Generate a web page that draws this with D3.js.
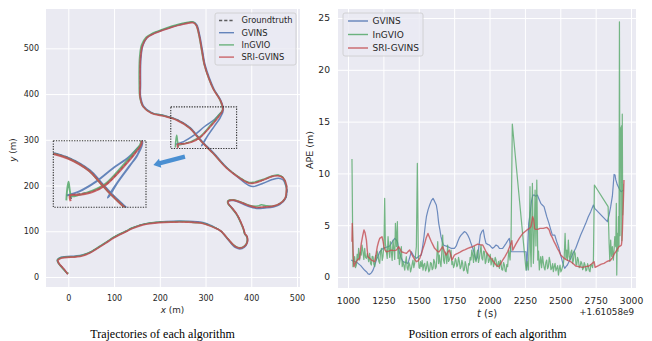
<!DOCTYPE html>
<html>
<head>
<meta charset="utf-8">
<script src="https://cdn.jsdelivr.net/npm/d3@7"></script>
<style>
  body { margin: 0; background: #fff; }
  svg { display: block; }
  text { font-family: "DejaVu Sans", sans-serif; fill: #262626; }
  .caption { font-family: "Liberation Serif", "Times New Roman", serif; font-size: 12px; fill: #000; }
</style>
</head>
<body>
<svg id="chart" width="652" height="341"></svg>
<script>
// trajectories, [x, y] in metres
const groundtruth = [[241,285],[240,290],[252,292],[270,296],[289,306],[311,330],[329,352],[338,366],[332,387],[318,410],[307,436],[298,464],[292,497],[286,530],[280,551],[273,557],[244,552],[208,541],[185,532],[171,523],[162,506],[158,481],[157,460],[157,420],[157,395],[164,373],[182,359],[208,353],[237,344],[266,326],[281,309],[295,293],[317,271],[346,239],[375,217],[395,206],[405,206],[426,212],[446,220],[460,222],[470,217],[477,201],[478,190],[475,172],[462,160],[448,155],[430,153],[412,152],[395,156],[383,161],[361,168],[350,166],[350,160],[357,152],[368,138],[375,125],[384,103],[386,95],[391,88],[391,75],[385,67],[375,63],[366,66],[359,72],[345,88],[334,100],[323,107],[294,118],[257,121],[230,121],[199,120],[163,115],[140,107],[126,100],[100,87],[82,75],[60,61],[46,53],[30,47],[17,45],[-16,42],[-23,37],[-20,29],[-10,18],[-1,6]];
const gvinsTraj = [[234,290],[252,296],[275,310],[298,329],[320,345],[336,361],[332,348],[320,331],[304,308],[291,287],[293,289],[305,309],[321,332],[333,350],[339,366],[333,387],[319,410],[308,436],[299,464],[293,497],[287,530],[281,551],[274,557],[245,552],[209,541],[186,532],[172,523],[163,506],[159,481],[158,460],[158,420],[158,395],[165,373],[183,359],[209,353],[238,344],[267,326],[282,309],[296,293],[318,271],[347,239],[376,214],[395,200],[405,198],[426,205],[446,213],[460,216],[470,212],[476,198],[478,190],[475,172],[462,158],[448,153],[430,151],[412,150],[395,154],[383,159],[361,167],[349,165],[350,160],[357,152],[368,137],[375,124],[384,102],[386,94],[391,87],[391,74],[385,65],[375,61],[366,64],[359,70],[345,87],[334,100],[323,107],[294,119],[257,122],[230,122],[199,120],[163,115],[140,107],[126,100],[100,87],[82,75],[60,61],[46,53],[30,48],[17,46],[-16,43],[-24,37],[-21,29],[-11,18],[-2,7]];
const ingvioTraj = [[234,283],[235,297],[237,310],[239,296],[241,289],[252,291],[270,297],[288,307],[310,331],[328,353],[337,366],[331,388],[317,411],[306,437],[297,465],[291,498],[285,531],[279,552],[272,558],[243,553],[207,542],[184,533],[170,524],[160,507],[156,482],[155,460],[155,420],[156,395],[163,373],[181,359],[207,353],[236,344],[265,326],[280,309],[294,293],[316,271],[345,240],[374,218],[394,207],[404,207],[425,213],[445,221],[459,223],[469,218],[476,201],[477,190],[474,172],[461,160],[447,155],[432,156],[422,158],[414,155],[395,157],[383,162],[361,169],[349,167],[349,160],[356,152],[367,138],[374,125],[383,103],[385,95],[390,88],[390,75],[384,67],[375,64],[366,67],[358,73],[344,89],[333,101],[322,107],[293,118],[272,119],[265,121],[230,121],[198,120],[162,115],[139,107],[125,100],[99,87],[81,75],[59,61],[45,53],[29,47],[16,45],[-17,42],[-24,37],[-21,29],[-11,17],[-2,8],[0,10]];
const sriTraj = [[240,282],[239,290],[252,291],[270,295],[288,305],[311,329],[329,351],[338,366],[332,387],[318,409],[307,435],[298,463],[292,496],[286,529],[280,550],[273,556],[244,551],[208,540],[185,531],[171,522],[162,505],[158,480],[157,460],[157,420],[157,394],[164,372],[182,358],[208,352],[237,343],[266,325],[281,308],[295,292],[317,270],[346,238],[375,216],[395,205],[405,205],[426,212],[446,220],[460,221],[470,216],[477,200],[477,190],[474,172],[462,160],[448,155],[430,153],[412,152],[395,156],[383,161],[361,168],[350,166],[350,160],[357,152],[368,138],[375,125],[384,103],[386,95],[391,88],[391,75],[385,67],[375,63],[366,66],[359,72],[345,88],[334,100],[323,106],[294,117],[257,120],[230,120],[199,119],[163,114],[140,106],[126,99],[100,86],[82,74],[60,60],[46,52],[30,46],[17,44],[-16,41],[-23,36],[-20,29],[-10,18],[-1,6]];

// absolute position error, [t - 1.61058e9 (s), APE (m)]
const gvinsApe = [[1023,1.64],[1035,1.55],[1047,1.48],[1060,1.45],[1071,1.32],[1090,1.1],[1106,0.84],[1118,0.65],[1130,0.51],[1142,0.3],[1153,0.26],[1165,0.4],[1177,0.67],[1188,1.1],[1200,1.64],[1212,2.0],[1224,2.44],[1236,2.6],[1247,2.77],[1265,2.85],[1283,2.93],[1295,3.0],[1306,3.25],[1318,3.5],[1330,3.73],[1340,3.6],[1349,3.41],[1357,2.8],[1365,2.28],[1377,1.8],[1389,1.48],[1406,1.4],[1424,1.32],[1436,1.9],[1448,2.44],[1465,2.0],[1483,1.8],[1500,2.0],[1518,2.12],[1528,3.0],[1537,3.89],[1546,5.0],[1554,5.82],[1566,6.5],[1577,6.95],[1590,7.4],[1601,7.59],[1612,7.3],[1624,6.95],[1632,6.3],[1641,5.18],[1650,4.5],[1657,3.89],[1666,3.4],[1674,3.09],[1690,3.0],[1704,2.93],[1728,2.77],[1752,2.77],[1765,3.0],[1775,3.41],[1787,3.8],[1799,4.05],[1810,4.2],[1822,4.38],[1834,4.3],[1846,4.05],[1858,3.7],[1869,3.25],[1881,2.8],[1893,2.28],[1905,1.64],[1916,1.96],[1925,3.0],[1935,4.05],[1946,4.4],[1956,4.54],[1965,3.8],[1975,3.25],[1987,3.15],[1999,3.09],[2011,2.9],[2022,2.77],[2034,2.9],[2046,3.09],[2058,3.0],[2070,2.77],[2081,2.75],[2093,2.77],[2105,3.0],[2117,3.25],[2128,3.5],[2140,3.73],[2147,3.0],[2152,2.44],[2187,2.44],[2258,2.44],[2263,0.67],[2270,3.0],[2277,5.18],[2286,5.98],[2296,7.27],[2306,7.9],[2317,7.91],[2326,7.8],[2338,7.91],[2350,7.5],[2362,7.11],[2373,6.95],[2385,6.79],[2395,6.3],[2405,5.8],[2420,5.18],[2432,4.6],[2444,4.05],[2461,4.05],[2475,3.4],[2491,2.77],[2503,2.1],[2515,1.48],[2523,1.1],[2531,0.84],[2540,1.0],[2550,1.16],[2562,1.5],[2574,1.8],[2590,2.3],[2609,2.77],[2626,3.4],[2644,4.05],[2662,4.6],[2680,5.18],[2697,5.8],[2715,6.31],[2734,6.95],[2743,6.63],[2833,5.34],[2845,6.0],[2856,6.79],[2868,7.8],[2875,9.0],[2880,9.9],[2887,9.85],[2892,9.4],[2903,8.9],[2915,8.56],[2925,8.3],[2932,8.24],[2946,8.4]];
const ingvioApe = [[1028,11.4],[1035,1.0],[1047,1.96],[1053,0.9],[1059,1.16],[1065,2.2],[1071,1.64],[1075,2.77],[1082,1.64],[1088,2.4],[1094,2.12],[1099,3.09],[1106,2.44],[1112,1.7],[1118,2.77],[1124,1.9],[1130,1.8],[1137,2.28],[1146,1.48],[1153,2.28],[1159,1.3],[1165,1.16],[1171,2.0],[1177,1.96],[1183,1.2],[1189,1.0],[1195,2.1],[1200,1.64],[1206,2.5],[1212,2.12],[1218,1.5],[1224,1.32],[1230,2.4],[1236,2.77],[1242,1.6],[1247,1.96],[1254,3.09],[1259,7.6],[1264,3.25],[1271,2.44],[1277,1.8],[1283,3.89],[1290,2.44],[1295,1.9],[1299,3.41],[1306,2.44],[1312,1.6],[1318,3.57],[1325,2.6],[1330,1.7],[1335,5.18],[1342,2.93],[1349,5.34],[1353,1.8],[1358,2.77],[1363,1.2],[1368,1.64],[1377,2.93],[1383,1.0],[1389,1.48],[1395,1.1],[1401,0.67],[1406,1.4],[1412,1.96],[1418,0.9],[1424,0.67],[1430,1.4],[1436,1.16],[1442,0.5],[1448,0.84],[1454,1.3],[1459,1.64],[1465,0.9],[1471,1.32],[1477,2.1],[1483,2.93],[1490,10.97],[1497,1.96],[1502,0.9],[1507,0.84],[1512,1.5],[1518,1.0],[1524,1.6],[1530,0.67],[1536,1.2],[1542,1.32],[1548,0.6],[1554,0.84],[1560,1.5],[1565,1.16],[1571,0.5],[1577,0.67],[1583,1.4],[1589,1.32],[1595,0.7],[1601,0.84],[1606,1.7],[1612,1.48],[1618,0.8],[1624,1.0],[1630,2.5],[1634,3.41],[1640,1.3],[1645,2.12],[1651,1.4],[1657,1.0],[1663,2.5],[1669,4.05],[1675,1.6],[1681,1.32],[1687,2.4],[1693,2.12],[1698,1.3],[1704,3.09],[1710,1.5],[1716,1.64],[1722,2.0],[1728,2.6],[1734,1.2],[1740,1.48],[1746,0.9],[1752,1.16],[1758,1.8],[1763,1.64],[1769,1.0],[1775,1.16],[1781,1.9],[1787,1.48],[1793,0.8],[1799,1.0],[1805,1.6],[1810,1.32],[1816,0.6],[1822,0.67],[1828,1.5],[1834,1.16],[1840,0.6],[1846,0.35],[1852,1.3],[1858,1.16],[1863,1.9],[1869,1.64],[1875,2.6],[1881,2.12],[1887,1.4],[1893,2.93],[1899,1.7],[1905,1.48],[1911,2.3],[1916,2.6],[1922,1.4],[1928,1.8],[1934,2.4],[1940,3.09],[1946,1.8],[1952,1.64],[1958,2.5],[1964,2.44],[1970,1.3],[1975,1.48],[1981,2.3],[1987,2.12],[1993,1.4],[1999,1.64],[2005,2.2],[2011,1.16],[2017,1.6],[2022,1.8],[2028,1.0],[2034,1.32],[2040,1.9],[2046,1.64],[2052,1.0],[2058,1.16],[2064,1.5],[2070,0.84],[2076,1.6],[2081,1.32],[2087,0.7],[2093,0.67],[2099,1.4],[2105,1.16],[2111,0.6],[2117,0.51],[2122,1.2],[2128,1.0],[2136,2.6],[2145,1.64],[2152,3.5],[2161,14.77],[2258,0.67],[2266,1.5],[2275,0.68],[2280,3.0],[2286,8.72],[2290,2.5],[2294,1.0],[2303,9.04],[2310,1.32],[2316,4.0],[2322,8.4],[2328,3.0],[2334,9.36],[2341,1.64],[2346,2.5],[2352,0.68],[2357,1.5],[2362,1.96],[2368,0.9],[2375,2.0],[2381,1.32],[2386,0.9],[2392,0.68],[2398,1.4],[2404,1.64],[2410,0.8],[2416,1.0],[2422,1.9],[2428,1.48],[2434,0.7],[2440,0.84],[2446,1.3],[2451,0.51],[2457,1.0],[2463,1.32],[2469,0.6],[2475,0.84],[2481,1.1],[2487,0.19],[2493,0.8],[2498,1.16],[2504,0.5],[2510,0.68],[2516,1.0],[2522,1.32],[2528,2.0],[2534,4.21],[2540,1.8],[2546,2.6],[2551,1.6],[2557,3.57],[2563,2.0],[2569,1.64],[2575,2.4],[2581,2.6],[2587,1.3],[2593,1.64],[2599,2.5],[2605,2.28],[2611,1.2],[2616,1.16],[2622,1.9],[2628,1.64],[2634,0.9],[2640,1.0],[2646,1.5],[2652,1.32],[2658,0.7],[2663,0.84],[2669,1.4],[2675,1.16],[2681,0.6],[2687,0.68],[2693,1.3],[2699,1.0],[2705,0.6],[2710,0.51],[2716,1.2],[2722,1.16],[2728,0.9],[2734,1.64],[2741,8.88],[2838,6.79],[2845,3.25],[2850,1.5],[2856,3.57],[2862,2.0],[2868,2.93],[2875,1.64],[2880,2.6],[2885,3.89],[2892,2.93],[2896,7.1],[2899,0.19],[2903,4.21],[2908,2.5],[2911,5.82],[2915,3.0],[2918,24.64],[2922,4.0],[2926,14.4],[2929,13.8],[2932,14.6],[2935,3.5],[2938,15.73],[2941,6.0],[2944,9.0]];
const sriApe = [[1028,3.41],[1030,5.18],[1036,2.5],[1042,1.0],[1050,1.3],[1059,1.48],[1070,1.7],[1082,1.8],[1088,2.6],[1094,3.25],[1104,4.0],[1113,4.54],[1120,4.3],[1130,3.57],[1136,2.6],[1141,1.96],[1153,1.8],[1165,1.64],[1177,1.55],[1189,1.48],[1198,2.2],[1207,2.93],[1216,3.4],[1224,3.73],[1240,3.89],[1247,3.5],[1254,2.93],[1262,2.6],[1271,2.44],[1288,2.5],[1306,2.6],[1324,2.55],[1342,2.6],[1358,2.93],[1368,2.7],[1377,2.44],[1395,2.35],[1412,2.28],[1424,2.45],[1436,2.6],[1447,2.3],[1459,1.96],[1471,1.7],[1483,1.48],[1495,1.55],[1507,1.8],[1524,2.5],[1542,3.25],[1553,3.8],[1565,4.21],[1577,3.8],[1589,3.41],[1600,3.1],[1612,2.77],[1624,2.6],[1636,2.44],[1645,2.44],[1657,2.7],[1669,2.93],[1681,2.5],[1693,2.12],[1705,2.4],[1716,2.6],[1726,2.1],[1735,1.64],[1744,1.9],[1752,2.12],[1763,2.2],[1775,2.28],[1792,2.4],[1810,2.54],[1828,2.65],[1846,2.77],[1863,2.85],[1881,2.93],[1898,3.05],[1916,3.18],[1934,3.12],[1952,3.09],[1963,2.8],[1975,2.44],[1993,2.1],[2011,1.8],[2028,1.5],[2046,1.16],[2056,1.05],[2065,1.0],[2079,1.3],[2093,1.64],[2110,2.0],[2128,2.44],[2140,2.85],[2152,3.25],[2158,3.5],[2164,2.6],[2187,3.2],[2210,3.73],[2235,4.21],[2252,4.4],[2270,4.6],[2283,4.7],[2293,4.86],[2300,5.4],[2305,5.82],[2312,5.5],[2318,4.7],[2324,4.6],[2340,4.6],[2357,4.7],[2380,4.7],[2404,4.79],[2420,4.6],[2432,4.1],[2444,3.8],[2456,3.41],[2468,3.1],[2479,2.77],[2491,2.5],[2503,2.12],[2520,1.9],[2538,1.7],[2556,1.58],[2574,1.48],[2590,1.3],[2609,1.06],[2630,1.0],[2656,0.93],[2680,1.0],[2703,1.06],[2720,1.25],[2739,1.48],[2746,0.93],[2770,1.1],[2790,1.25],[2809,1.32],[2830,1.5],[2856,1.64],[2870,1.9],[2880,2.2],[2892,2.44],[2904,2.7],[2915,2.93],[2925,3.0],[2932,3.09],[2936,3.6],[2939,4.54],[2942,5.8],[2946,7.43],[2950,9.36]];

const trajXTicks = [0, 100, 200, 300, 400, 500];
const trajYTicks = [0, 100, 200, 300, 400, 500];
const apeXTicks = [1000, 1250, 1500, 1750, 2000, 2250, 2500, 2750, 3000];
const apeYTicks = [0, 5, 10, 15, 20, 25];

const trajSeries = [
  { name: "Groundtruth", data: groundtruth, color: "#444", dash: "3.2,2", width: 1.2 },
  { name: "GVINS", data: gvinsTraj, color: "#4C72B0", width: 1.5 },
  { name: "InGVIO", data: ingvioTraj, color: "#55A868", width: 1.5 },
  { name: "SRI-GVINS", data: sriTraj, color: "#C44E52", width: 1.7 }
];
const apeSeries = [
  { name: "GVINS", data: gvinsApe, color: "#4C72B0", width: 1.2 },
  { name: "InGVIO", data: ingvioApe, color: "#55A868", width: 1.2 },
  { name: "SRI-GVINS", data: sriApe, color: "#C44E52", width: 1.4 }
];

const svg = d3.select("#chart");

// left panel scales (equal aspect)
const trajX = d3.scaleLinear().domain([-48.8, 506.6]).range([46, 300]);
const trajY = d3.scaleLinear().domain([-21.9, 586]).range([287, 9]);
// zoomed inset
const insetX = d3.scaleLinear().domain([216, 344]).range([53.3, 146]);
const insetY = d3.scaleLinear().domain([273, 369]).range([207.3, 140.7]);
const zoomBox = { x0: 224, x1: 368, y0: 281, y1: 372 };

// right panel scales
const apeX = d3.scaleLinear().domain([929.3, 3035]).range([338, 636]);
const apeY = d3.scaleLinear().domain([-1.06, 25.87]).range([288, 9]);

function buildFrame(g, x, y, opt) {
  const [x0, x1] = x.range();
  const [y0, y1] = y.range();
  g.append("rect")
    .attr("x", x0).attr("y", y1)
    .attr("width", x1 - x0).attr("height", y0 - y1)
    .attr("fill", "#EAEAF2");

  const xa = g.append("g")
    .attr("transform", `translate(0,${y0})`)
    .call(d3.axisBottom(x).tickValues(opt.xTicks).tickSize(-(y0 - y1)).tickPadding(opt.xPad).tickFormat(d3.format("d")));
  const ya = g.append("g")
    .attr("transform", `translate(${x0},0)`)
    .call(d3.axisLeft(y).tickValues(opt.yTicks).tickSize(-(x1 - x0)).tickPadding(opt.yPad).tickFormat(d3.format("d")));

  [xa, ya].forEach(a => {
    a.select(".domain").remove();
    a.selectAll("line").attr("stroke", "#fff").attr("stroke-width", 1);
    a.selectAll("text").style("font-size", opt.font + "px");
  });
}

function addLegend(g, series, box) {
  const lg = g.append("g").attr("transform", `translate(${box.x},${box.y})`);
  lg.append("rect")
    .attr("width", box.w).attr("height", box.h)
    .attr("rx", 2)
    .attr("fill", "#EAEAF2").attr("fill-opacity", 0.8)
    .attr("stroke", "#cccccc").attr("stroke-width", 0.8);
  const row = lg.selectAll(".row").data(series).enter().append("g")
    .attr("transform", (d, i) => `translate(0,${box.top + i * box.step})`);
  row.append("line")
    .attr("x1", box.lx0).attr("x2", box.lx1)
    .attr("stroke", d => d.color)
    .attr("stroke-opacity", 0.85)
    .attr("stroke-width", 1.4)
    .attr("stroke-dasharray", d => d.dash || null);
  row.append("text")
    .attr("x", box.tx).attr("dy", "0.35em")
    .style("font-size", box.font + "px")
    .text(d => d.name);
}

function drawTrajectories() {
  const g = svg.append("g");
  buildFrame(g, trajX, trajY, { xTicks: trajXTicks, yTicks: trajYTicks, xPad: 8, yPad: 7, font: 8 });

  const line = d3.line()
    .x(d => trajX(d[0])).y(d => trajY(d[1]))
    .curve(d3.curveCatmullRom.alpha(0.5));
  g.selectAll(".traj").data(trajSeries).enter().append("path")
    .attr("d", d => line(d.data))
    .attr("fill", "none")
    .attr("stroke", d => d.color)
    .attr("stroke-width", d => d.width)
    .attr("stroke-dasharray", d => d.dash || null)
    .attr("stroke-opacity", 0.85)
    .attr("stroke-linejoin", "round");

  // region that is magnified
  g.append("rect")
    .attr("x", trajX(zoomBox.x0)).attr("y", trajY(zoomBox.y1))
    .attr("width", trajX(zoomBox.x1) - trajX(zoomBox.x0))
    .attr("height", trajY(zoomBox.y0) - trajY(zoomBox.y1))
    .attr("fill", "none").attr("stroke", "#333")
    .attr("stroke-width", 1.1).attr("stroke-dasharray", "1.3,1.3");

  // inset with the magnified start
  const [ix0, ix1] = insetX.range();
  const [iy0, iy1] = insetY.range();
  svg.append("clipPath").attr("id", "insetClip")
    .append("rect").attr("x", ix0).attr("y", iy1).attr("width", ix1 - ix0).attr("height", iy0 - iy1);
  const insetLine = d3.line()
    .x(d => insetX(d[0])).y(d => insetY(d[1]))
    .curve(d3.curveCatmullRom.alpha(0.5));
  g.append("g").attr("clip-path", "url(#insetClip)")
    .selectAll("path").data(trajSeries).enter().append("path")
    .attr("d", d => insetLine(d.data))
    .attr("fill", "none")
    .attr("stroke", d => d.color)
    .attr("stroke-width", d => d.width + 0.4)
    .attr("stroke-dasharray", d => d.dash || null)
    .attr("stroke-opacity", 0.85);
  g.append("rect")
    .attr("x", ix0).attr("y", iy1)
    .attr("width", ix1 - ix0).attr("height", iy0 - iy1)
    .attr("fill", "none").attr("stroke", "#333")
    .attr("stroke-width", 1.1).attr("stroke-dasharray", "1.3,1.3");

  // arrow pointing from the box to the inset
  const tail = [trajX(255), trajY(263)];
  const head = [trajX(186), trajY(245)];
  const ang = Math.atan2(head[1] - tail[1], head[0] - tail[0]);
  const len = Math.hypot(head[0] - tail[0], head[1] - tail[1]);
  const hw = 2.2, hh = 4.6, hl = 7;
  const pts = [[0, -hw], [len - hl, -hw], [len - hl, -hh], [len, 0], [len - hl, hh], [len - hl, hw], [0, hw]];
  g.append("path")
    .attr("d", d3.line()(pts) + "Z")
    .attr("transform", `translate(${tail[0]},${tail[1]}) rotate(${ang * 180 / Math.PI})`)
    .attr("fill", "#4a8fd2");

  addLegend(g, trajSeries, { x: 215, y: 13, w: 81, h: 52, top: 7.5, step: 12.2, lx0: 4, lx1: 19, tx: 26.5, font: 8.3 });

  const xl = g.append("text").attr("x", 172.5).attr("y", 313).attr("text-anchor", "middle").style("font-size", "8.8px");
  xl.append("tspan").attr("font-style", "italic").text("x");
  xl.append("tspan").text(" (m)");
  const yl = g.append("text").attr("transform", "translate(16,150) rotate(-90)").attr("text-anchor", "middle").style("font-size", "8.8px");
  yl.append("tspan").attr("font-style", "italic").text("y");
  yl.append("tspan").text(" (m)");

  g.append("text").attr("class", "caption").attr("x", 162.5).attr("y", 338).attr("text-anchor", "middle")
    .text("Trajectories of each algorithm");
}

function drawErrors() {
  const g = svg.append("g");
  buildFrame(g, apeX, apeY, { xTicks: apeXTicks, yTicks: apeYTicks, xPad: 9, yPad: 8, font: 9.2 });

  svg.append("clipPath").attr("id", "apeClip")
    .append("rect").attr("x", 338).attr("y", 9).attr("width", 298).attr("height", 279);
  const line = d3.line().x(d => apeX(d[0])).y(d => apeY(d[1]));
  g.append("g").attr("clip-path", "url(#apeClip)")
    .selectAll("path").data(apeSeries).enter().append("path")
    .attr("d", d => line(d.data))
    .attr("fill", "none")
    .attr("stroke", d => d.color)
    .attr("stroke-width", d => d.width)
    .attr("stroke-opacity", 0.8)
    .attr("stroke-linejoin", "round");

  addLegend(g, apeSeries, { x: 343, y: 13, w: 80, h: 43, top: 8, step: 13.5, lx0: 5, lx1: 25, tx: 29.5, font: 9 });

  const xl = g.append("text").attr("x", 487).attr("y", 317).attr("text-anchor", "middle").style("font-size", "10px");
  xl.append("tspan").attr("font-style", "italic").text("t");
  xl.append("tspan").text(" (s)");
  g.append("text").attr("x", 634).attr("y", 315).attr("text-anchor", "end").style("font-size", "8.8px")
    .text("+1.61058e9");
  g.append("text").attr("transform", "translate(313,150) rotate(-90)").attr("text-anchor", "middle").style("font-size", "9.5px")
    .text("APE (m)");

  g.append("text").attr("class", "caption").attr("x", 487.5).attr("y", 338).attr("text-anchor", "middle")
    .text("Position errors of each algorithm");
}

drawTrajectories();
drawErrors();
</script>
</body>
</html>
